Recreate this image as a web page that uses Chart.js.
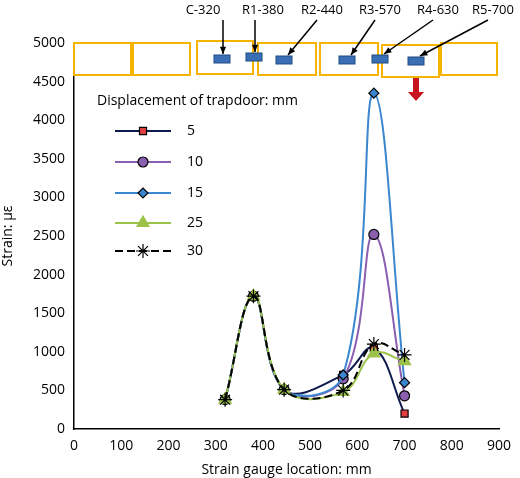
<!DOCTYPE html>
<html><head><meta charset="utf-8">
<script src="https://cdn.jsdelivr.net/npm/chart.js@4"></script>
<style>body{margin:0;background:#fff}#wrap{width:520px;height:478px}</style>
</head><body><div id="wrap"><canvas id="c"></canvas></div>
<script>
var locations = [320, 380, 445, 570, 635, 700];
var d5  = [380, 1720, 510, 700, 1050, 200];
var d10 = [380, 1720, 510, 650, 2520, 430];
var d15 = [380, 1720, 510, 700, 4350, 600];
var d25 = [380, 1720, 510, 480, 980, 880];
var d30 = [380, 1720, 510, 500, 1100, 960];
var seriesNames = ['5', '10', '15', '25', '30'];
var gaugeLabels = ['C-320', 'R1-380', 'R2-440', 'R3-570', 'R4-630', 'R5-700'];
var FONT = '"Open Sans", "Noto Sans", sans-serif';

function mk(name, vals, color, fill, style, r, order, dash){
    return {
        label: name, order: order,
        data: vals.map(function(v, i){ return {x: locations[i], y: v}; }),
        borderColor: color, backgroundColor: fill,
        pointBorderColor: style == 'triangle' ? fill : '#000',
        pointBackgroundColor: fill, pointStyle: style, pointRadius: r,
        pointBorderWidth: 1.2, borderWidth: 2, borderDash: dash || [],
        tension: 0.4, fill: false
    };
}
var sets = [
    mk(seriesNames[0], d5, '#0e1a4e', '#e04040', 'rect', 5, 5),
    mk(seriesNames[1], d10, '#8a5fb0', '#8a5fb0', 'circle', 5, 4),
    mk(seriesNames[2], d15, '#3a87d0', '#3a87d0', 'rectRot', 5, 3),
    mk(seriesNames[3], d25, '#9cc24a', '#9cc24a', 'triangle', 7, 2),
    mk(seriesNames[4], d30, '#000', '#000', 'star', 7, 1, [8, 4])
];

// trapdoor sketch and custom legend
var deco = {
    id: 'deco',
    afterDraw: function(chart){
        var ctx = chart.ctx;
        ctx.save();
        ctx.strokeStyle = '#f5b400'; ctx.lineWidth = 2;
        [[74,43,57,32],[133,43,57,32],[197,41,56,33],[258,43,58,32],[320,43,58,32],[382,45,57,32],[441,43,56,32]].forEach(function(b){
            ctx.fillStyle = '#fff'; ctx.fillRect(b[0], b[1], b[2], b[3]); ctx.strokeRect(b[0], b[1], b[2], b[3]);
        });
        var rects = [[214,55],[246,53],[276,56],[339,56],[372,55],[408,57]];
        ctx.fillStyle = '#3b6fb5'; ctx.strokeStyle = '#1f4a80'; ctx.lineWidth = 1;
        rects.forEach(function(r){ ctx.fillRect(r[0], r[1], 16, 8); ctx.strokeRect(r[0], r[1], 16, 8); });
        var labX = [203, 263, 322, 380, 438, 493];
        ctx.fillStyle = '#000'; ctx.font = '13px ' + FONT; ctx.textAlign = 'center'; ctx.textBaseline = 'middle';
        ctx.strokeStyle = '#000'; ctx.lineWidth = 1.5;
        gaugeLabels.forEach(function(t, i){
            ctx.fillText(t, labX[i], 10);
            var sx = i < 2 ? rects[i][0] + 9 : labX[i] - 5, sy = 20;
            var ex = i < 2 ? rects[i][0] + 9 : rects[i][0] + 12, ey = rects[i][1] - 1;
            ctx.beginPath(); ctx.moveTo(sx, sy); ctx.lineTo(ex, ey); ctx.stroke();
            var a = Math.atan2(ey - sy, ex - sx);
            ctx.beginPath(); ctx.moveTo(ex, ey);
            ctx.lineTo(ex - 8 * Math.cos(a - 0.4), ey - 8 * Math.sin(a - 0.4));
            ctx.lineTo(ex - 8 * Math.cos(a + 0.4), ey - 8 * Math.sin(a + 0.4));
            ctx.closePath(); ctx.fill();
        });
        // red arrow
        ctx.fillStyle = '#c8141e';
        ctx.fillRect(413, 78, 6, 15);
        ctx.beginPath(); ctx.moveTo(408, 92); ctx.lineTo(424, 92); ctx.lineTo(416, 101); ctx.closePath(); ctx.fill();
        // legend
        ctx.textAlign = 'left'; ctx.font = '14px ' + FONT; ctx.fillStyle = '#000';
        ctx.fillText('Displacement of trapdoor: mm', 97, 101);
        var ys = [131, 162, 193, 223, 251];
        sets.forEach(function(s, i){
            ctx.strokeStyle = s.borderColor; ctx.lineWidth = 2; ctx.setLineDash(s.borderDash);
            ctx.beginPath(); ctx.moveTo(115, ys[i]); ctx.lineTo(171, ys[i]); ctx.stroke();
            ctx.setLineDash([]);
            ctx.fillStyle = s.pointBackgroundColor; ctx.strokeStyle = s.pointBorderColor; ctx.lineWidth = 1.2;
            Chart.helpers.drawPoint(ctx, {pointStyle: s.pointStyle, radius: s.pointRadius, borderWidth: 1.2}, 143, ys[i]);
            ctx.fillStyle = '#000';
            ctx.fillText(s.label, 187, ys[i]);
        });
        ctx.restore();
    }
};

new Chart(document.getElementById('c'), {
    type: 'line',
    data: {datasets: sets},
    options: {
        responsive: true, maintainAspectRatio: false, animation: false,
        layout: {padding: {top: 43, right: 21, left: 0, bottom: 0}},
        plugins: {legend: {display: false}, tooltip: {enabled: false}},
        scales: {
            x: {
                type: 'linear', min: 0, max: 900,
                ticks: {stepSize: 100, color: '#000', font: {family: FONT, size: 14}, callback: function(v){ return String(v); }},
                grid: {display: false, drawTicks: true, tickLength: 6, tickColor: '#000'},
                border: {color: '#000', width: 1.5},
                title: {display: true, text: 'Strain gauge location: mm', color: '#000', font: {family: FONT, size: 14}, padding: 0},
                afterFit: function(s){ s.height = 49; }
            },
            y: {
                min: 0, max: 5000,
                ticks: {stepSize: 500, color: '#000', font: {family: FONT, size: 14}, callback: function(v){ return String(v); }},
                grid: {display: false, drawTicks: true, tickLength: 6, tickColor: '#000'},
                border: {color: '#000', width: 1.5},
                title: {display: true, text: 'Strain: με', color: '#000', font: {family: FONT, size: 14}, padding: 0},
                afterFit: function(s){ s.width = 74; }
            }
        }
    },
    plugins: [deco]
});
</script></body></html>
